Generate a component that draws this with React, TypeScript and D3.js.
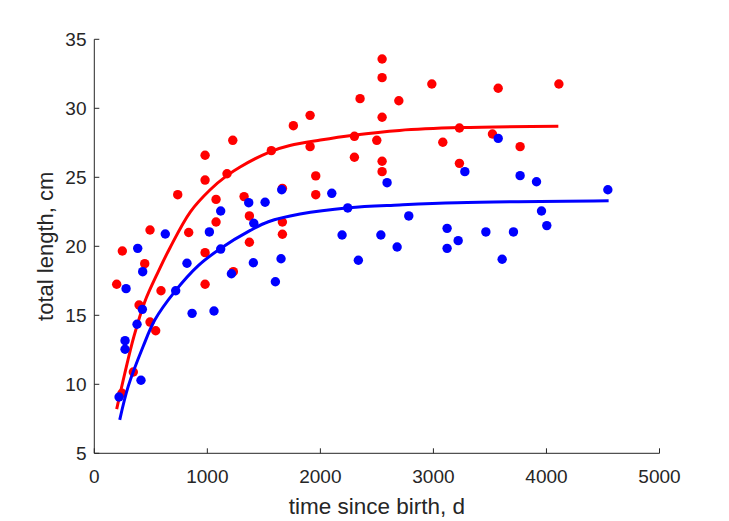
import React from "react";
import * as d3 from "d3";

// scatter data: time since birth (d), total length (cm)
const redX = [248, 446, 198, 590, 396, 493, 543, 345, 245, 493, 738, 835, 980, 980, 980, 980, 1077, 1077, 1174, 1225, 1230, 1325, 1372, 1372, 1566, 1664, 1664, 1664, 1761, 1909, 1909, 1959, 1959, 2301, 2301, 2351, 2499, 2546, 2546, 2546, 2546, 2546, 2694, 2986, 3083, 3230, 3230, 3522, 3573, 3767, 4110];
const redY = [19.66, 18.74, 17.25, 16.78, 15.75, 14.51, 13.88, 10.89, 9.35, 21.18, 23.74, 21.0, 26.6, 24.8, 19.54, 17.25, 23.4, 21.76, 25.26, 27.68, 18.16, 23.6, 22.2, 20.29, 26.93, 24.2, 21.76, 20.87, 28.74, 29.49, 27.22, 25.1, 23.74, 27.97, 26.45, 30.7, 27.68, 33.57, 32.22, 29.35, 26.16, 25.41, 30.55, 31.76, 27.54, 28.57, 26.01, 28.14, 31.45, 27.22, 31.76];

const blueX = [219, 272, 272, 281, 378, 384, 413, 425, 428, 628, 720, 820, 865, 1018, 1059, 1118, 1118, 1213, 1366, 1407, 1411, 1511, 1602, 1652, 1658, 2101, 2192, 2242, 2336, 2535, 2590, 2679, 2782, 3121, 3121, 3219, 3278, 3464, 3573, 3608, 3708, 3767, 3912, 3956, 4003, 4543];
const blueY = [9.08, 13.16, 12.54, 16.93, 14.35, 19.85, 10.29, 15.43, 18.16, 20.89, 16.78, 18.77, 15.14, 21.04, 15.31, 22.56, 19.8, 18.01, 23.16, 18.81, 21.67, 23.19, 17.43, 19.1, 24.1, 23.84, 20.82, 22.78, 18.99, 20.82, 24.61, 19.95, 22.2, 21.3, 19.85, 20.41, 25.41, 21.04, 27.82, 19.06, 21.04, 25.12, 24.68, 22.56, 21.5, 24.1];

// fitted curves
const redFitX = [198, 270, 350, 445, 565, 670, 850, 1025, 1170, 1290, 1555, 1730, 2000, 2290, 2700, 3240, 4105];
const redFitY = [8.2, 10.8, 13.45, 15.95, 18.15, 19.9, 22.5, 24.1, 25.1, 25.75, 26.85, 27.3, 27.7, 28.05, 28.4, 28.6, 28.7];
const blueFitX = [225, 300, 430, 535, 710, 920, 1120, 1380, 1540, 1820, 2250, 2700, 3210, 4550];
const blueFitY = [7.42, 9.85, 12.7, 14.66, 16.7, 18.6, 19.86, 21.15, 21.78, 22.34, 22.8, 23.0, 23.16, 23.3];

const xTicks = [0, 1000, 2000, 3000, 4000, 5000];
const yTicks = [5, 10, 15, 20, 25, 30, 35];
const xLabel = "time since birth, d";
const yLabel = "total length, cm";

const W = 729;
const H = 521;
const axisColor = "#262626";
const font = "'Liberation Sans', Arial, Helvetica, sans-serif";

export default function App() {
  const x = d3.scaleLinear().domain([0, 5000]).range([94.3, 659.5]);
  const y = d3.scaleLinear().domain([5, 35]).range([453.3, 39.3]);

  const line = d3
    .line<[number, number]>()
    .x((d) => x(d[0]))
    .y((d) => y(d[1]))
    .curve(d3.curveCatmullRom.alpha(0.5));

  const redFit = redFitX.map((v, i) => [v, redFitY[i]] as [number, number]);
  const blueFit = blueFitX.map((v, i) => [v, blueFitY[i]] as [number, number]);

  const [x0, x1] = x.range();
  const [y0, y1] = y.range();
  const r = 4.7;
  const tickLen = 5;

  return (
    <svg
      width={W}
      height={H}
      style={{ position: "absolute", left: 0, top: 0, background: "#fff" }}
      fontFamily={font}
    >
      <rect x={0} y={0} width={W} height={H} fill="#fff" />
      {redX.map((v, i) => (
        <circle key={"r" + i} cx={x(v)} cy={y(redY[i])} r={r} fill="#ff0000" />
      ))}
      <path d={line(redFit) || ""} fill="none" stroke="#ff0000" strokeWidth={3} />
      {blueX.map((v, i) => (
        <circle key={"b" + i} cx={x(v)} cy={y(blueY[i])} r={r} fill="#0000ff" />
      ))}
      <path d={line(blueFit) || ""} fill="none" stroke="#0000ff" strokeWidth={3} />

      {/* axes */}
      <line x1={x0} x2={x1} y1={y0} y2={y0} stroke={axisColor} strokeWidth={1} />
      <line x1={x0} x2={x0} y1={y0} y2={y1} stroke={axisColor} strokeWidth={1} />
      {xTicks.map((t) => (
        <g key={"xt" + t}>
          <line x1={x(t)} x2={x(t)} y1={y0} y2={y0 - tickLen} stroke={axisColor} />
          <text x={x(t)} y={483} textAnchor="middle" fontSize={19} fill={axisColor}>
            {t}
          </text>
        </g>
      ))}
      {yTicks.map((t) => (
        <g key={"yt" + t}>
          <line x1={x0} x2={x0 + tickLen} y1={y(t)} y2={y(t)} stroke={axisColor} />
          <text x={86.5} y={y(t) + 6.8} textAnchor="end" fontSize={19} fill={axisColor}>
            {t}
          </text>
        </g>
      ))}
      <text x={(x0 + x1) / 2} y={514} textAnchor="middle" fontSize={22.5} fill={axisColor}>
        {xLabel}
      </text>
      <text
        transform={`translate(53,${(y0 + y1) / 2}) rotate(-90)`}
        textAnchor="middle"
        fontSize={22}
        fill={axisColor}
      >
        {yLabel}
      </text>
    </svg>
  );
}
